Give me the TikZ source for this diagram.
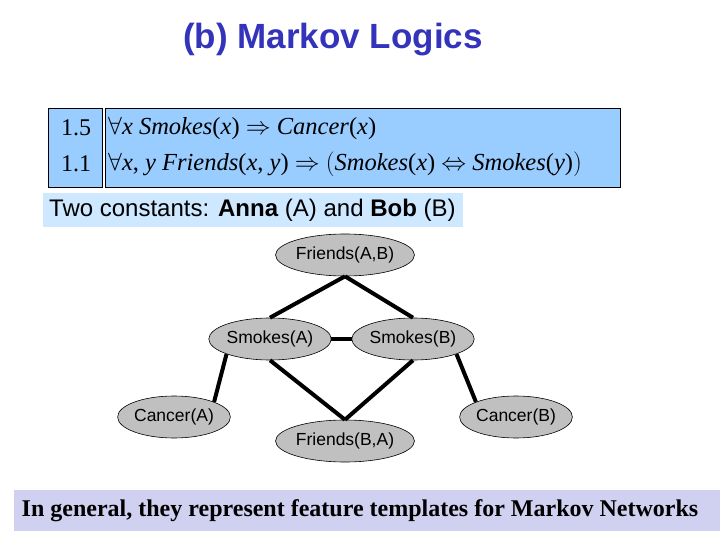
\documentclass[tikz,border=0pt]{standalone}
\usepackage{fontspec}
\setmainfont{Liberation Serif}
\setsansfont{Liberation Sans}
\usetikzlibrary{shapes.geometric}

\definecolor{titleblue}{RGB}{51,51,187}
\definecolor{rulefill}{RGB}{153,204,255}
\definecolor{constfill}{RGB}{206,232,255}
\definecolor{notefill}{RGB}{208,208,240}
\definecolor{atomgray}{RGB}{192,192,192}

\def\rowone{128}
\def\rowtwo{164}

\begin{document}
\begin{tikzpicture}[x=1pt,y=-1pt]
    \tikzstyle{atom}=[ellipse,draw=black,line width=0.6pt,fill=atomgray,minimum width=108pt,minimum height=42pt,inner sep=0pt,font=\fontsize{17.5}{20}\sffamily]
    \tikzstyle{pair atom}=[atom, minimum width=136pt]
    \tikzstyle{link}=[draw=black,line width=4pt]
    \tikzstyle{cell}=[draw=black,line width=0.8pt,fill=rulefill]
    \tikzstyle{formula}=[anchor=west,inner sep=0pt,font=\fontsize{24.5}{28}\selectfont]

    \useasboundingbox (0,0) rectangle (720,540);

    % Title
    \node[text=titleblue,font=\fontsize{35}{40}\sffamily\bfseries] (title) at (333,40) {(b) Markov Logics};

    % The weighted formulas
    \path[cell] (48,108) rectangle (102,187);
    \path[cell] (105,108) rectangle (620,187);
    \node[font=\fontsize{24}{28}\selectfont] (w1) at (76,\rowone) {1.5};
    \node[font=\fontsize{24}{28}\selectfont] (w2) at (76,\rowtwo) {1.1};
    \node[formula] (f1) at (108,\rowone)
        {$\forall$\textit{x Smokes}(\textit{x}) $\Rightarrow$ \textit{Cancer}(\textit{x})};
    \node[formula] (f2) at (108,\rowtwo)
        {$\forall$\textit{x}, \textit{y Friends}(\textit{x}, \textit{y}) $\Rightarrow$ $\Big($\textit{Smokes}(\textit{x}) $\Leftrightarrow$ \textit{Smokes}(\textit{y})$\Big)$};

    % The constants
    \path[fill=constfill] (43,193) rectangle (463,227);
    \node[anchor=west,inner sep=0pt,font=\fontsize{24}{26}\sffamily] (consts) at (49,210)
        {Two constants: \textbf{Anna} (A) and \textbf{Bob} (B)};

    % Ground atoms
    \node[pair atom] (FAB) at (345,255) {Friends(A,B)};
    \node[atom] (SA) at (270,339) {Smokes(A)};
    \node[atom] (SB) at (413,339) {Smokes(B)};
    \node[atom] (CA) at (174,417) {Cancer(A)};
    \node[atom] (CB) at (516,417) {Cancer(B)};
    \node[pair atom] (FBA) at (345,441) {Friends(B,A)};

    % Connect the atoms that share a ground formula
    \foreach \source / \dest in {FAB.south/SA.north, FAB.south/SB.north,
                                 SA.east/SB.west, SA.south/FBA.north, SB.south/FBA.north,
                                 SA.south west/CA.north east, SB.south east/CB.north west}
        \path[link] (\source) -- (\dest);

    % Bottom note
    \path[fill=notefill] (14,490) rectangle (720,531);
    \node[font=\fontsize{24}{28}\bfseries] (note) at (360,511)
        {In general, they represent feature templates for Markov Networks};
\end{tikzpicture}
\end{document}
